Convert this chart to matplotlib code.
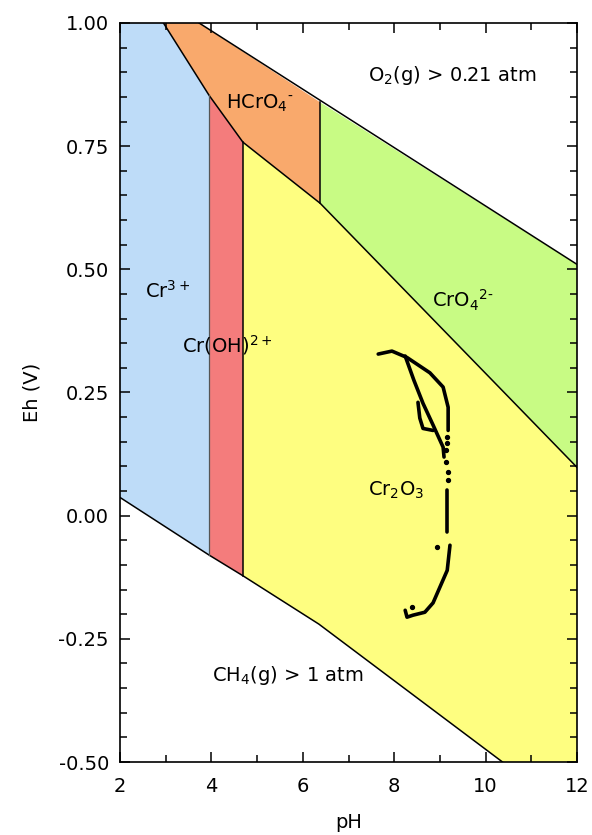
import numpy as np
import matplotlib.pyplot as plt
from matplotlib.ticker import MultipleLocator, FormatStrFormatter

plt.rcParams['font.family'] = ['DejaVu Sans']
plt.rcParams['mathtext.fontset'] = 'dejavusans'
plt.rcParams['axes.unicode_minus'] = False

# Limites de estabilidade da agua (O2 e CH4)
ph_o2 = [3.73, 12.0]
eh_o2 = [1.0, 0.51]
ph_ch4 = [2.0, 3.95, 4.69, 6.35, 10.37]
eh_ch4 = [0.037, -0.080, -0.122, -0.220, -0.50]

# Limites entre especies de Cr
ph_cr3_top, eh_cr3_top = 2.95, 1.0      # Cr3+ / HCrO4- no topo
ph_a, eh_a = 3.95, 0.853                # Cr3+ / Cr(OH)2+ / HCrO4-
ph_b, eh_b = 4.69, 0.758                # Cr(OH)2+ / Cr2O3 / HCrO4-
ph_c, eh_c_top, eh_c = 6.38, 0.839, 0.634  # HCrO4- / CrO4 2-
eh_cro4_right = 0.098                   # Cr2O3 / CrO4 2- em pH 12

# Trajetoria medida (pH, Eh)
traj_outer_ph = [7.65, 7.95, 8.28, 8.78, 9.07, 9.18, 9.18]
traj_outer_eh = [0.328, 0.334, 0.321, 0.290, 0.261, 0.220, 0.173]
traj_diag_ph = [8.24, 8.43, 8.63, 8.85, 9.07, 9.09]
traj_diag_eh = [0.324, 0.275, 0.228, 0.184, 0.139, 0.119]
traj_inner_ph = [8.52, 8.56, 8.63, 8.85]
traj_inner_eh = [0.230, 0.198, 0.177, 0.173]
traj_mid_ph = [9.16, 9.16]
traj_mid_eh = [0.052, -0.033]
traj_low_ph = [9.22, 9.16, 9.00, 8.85, 8.67, 8.41, 8.28, 8.24]
traj_low_eh = [-0.060, -0.111, -0.145, -0.177, -0.196, -0.202, -0.206, -0.192]
dots_ph = [9.16, 9.16, 9.13, 9.13, 9.18, 9.18, 8.94, 8.39]
dots_eh = [0.159, 0.147, 0.133, 0.109, 0.088, 0.072, -0.064, -0.186]

c_blue = '#bedcf8'
c_red = '#f47c7c'
c_orange = '#f9a96c'
c_green = '#c8fb84'
c_yellow = '#fefe80'


def ch4(ph):
    return np.interp(ph, ph_ch4, eh_ch4)


fig = plt.figure(figsize=(5.92, 8.35), dpi=100)
ax = fig.add_axes([0.2027, 0.0874, 0.772, 0.8851])

# Regioes
ax.fill([2, ph_cr3_top, ph_a, ph_a, 2], [1.0, 1.0, eh_a, ch4(ph_a), ch4(2)],
        color=c_blue, lw=0)
ax.fill([ph_a, ph_b, ph_b, ph_a], [eh_a, eh_b, ch4(ph_b), ch4(ph_a)],
        color=c_red, lw=0)
ax.fill([ph_cr3_top, ph_o2[0], ph_c, ph_c, ph_b, ph_a],
        [1.0, 1.0, eh_c_top, eh_c, eh_b, eh_a], color=c_orange, lw=0)
ax.fill([ph_c, 12, 12, ph_c], [eh_c_top, eh_o2[1], eh_cro4_right, eh_c],
        color=c_green, lw=0)
ax.fill([ph_b, ph_c, 12, 12, ph_ch4[-1], ph_ch4[3], ph_b],
        [eh_b, eh_c, eh_cro4_right, -0.5, -0.5, eh_ch4[3], ch4(ph_b)],
        color=c_yellow, lw=0)

# Linhas de contorno
lk = dict(color='k', lw=1.1)
ax.plot(ph_o2, eh_o2, **lk)
ax.plot(ph_ch4, eh_ch4, **lk)
ax.plot([ph_cr3_top, ph_a, ph_b, ph_c, 12],
        [1.0, eh_a, eh_b, eh_c, eh_cro4_right], **lk)
ax.plot([ph_a, ph_a], [eh_a, ch4(ph_a)], color='#555555', lw=0.9)
ax.plot([ph_b, ph_b], [eh_b, ch4(ph_b)], **lk)
ax.plot([ph_c, ph_c], [eh_c_top, eh_c], **lk)

# Trajetoria
tk = dict(color='k', lw=2.6, solid_capstyle='round', solid_joinstyle='round')
ax.plot(traj_outer_ph, traj_outer_eh, **tk)
ax.plot(traj_diag_ph, traj_diag_eh, **tk)
ax.plot(traj_inner_ph, traj_inner_eh, **tk)
ax.plot(traj_mid_ph, traj_mid_eh, **tk)
ax.plot(traj_low_ph, traj_low_eh, **tk)
ax.plot(dots_ph, dots_eh, 'ko', ms=2.8)

# Rotulos
fs = 14
ax.text(7.43, 0.894, r'O$_2$(g) > 0.21 atm', fontsize=fs, va='center')
ax.text(4.32, 0.837, r'HCrO$_4$$^{\text{-}}$', fontsize=fs, va='center')
ax.text(2.55, 0.457, r'Cr$^{3+}$', fontsize=fs, va='center')
ax.text(3.36, 0.346, r'Cr(OH)$^{2+}$', fontsize=fs, va='center')
ax.text(8.83, 0.437, r'CrO$_4$$^{2\text{-}}$', fontsize=fs, va='center')
ax.text(7.43, 0.052, r'Cr$_2$O$_3$', fontsize=fs, va='center')
ax.text(4.01, -0.324, r'CH$_4$(g) > 1 atm', fontsize=fs, va='center')

ax.set_xlim(2, 12)
ax.set_ylim(-0.5, 1.0)
ax.xaxis.set_major_locator(MultipleLocator(2))
ax.xaxis.set_minor_locator(MultipleLocator(1))
ax.yaxis.set_major_locator(MultipleLocator(0.25))
ax.yaxis.set_minor_locator(MultipleLocator(0.05))
ax.yaxis.set_major_formatter(FormatStrFormatter('%.2f'))
ax.tick_params(which='both', direction='in', top=True, right=True,
               labelsize=14, width=1.1)
ax.tick_params(which='major', length=7)
ax.tick_params(which='minor', length=5)
ax.tick_params(axis='x', which='major', pad=11)
ax.tick_params(axis='y', which='major', pad=8)
for s in ax.spines.values():
    s.set_linewidth(1.2)
ax.set_xlabel('pH', fontsize=14, labelpad=12)
ax.set_ylabel('Eh (V)', fontsize=14, labelpad=12)

fig.savefig('out.png', dpi=100)
